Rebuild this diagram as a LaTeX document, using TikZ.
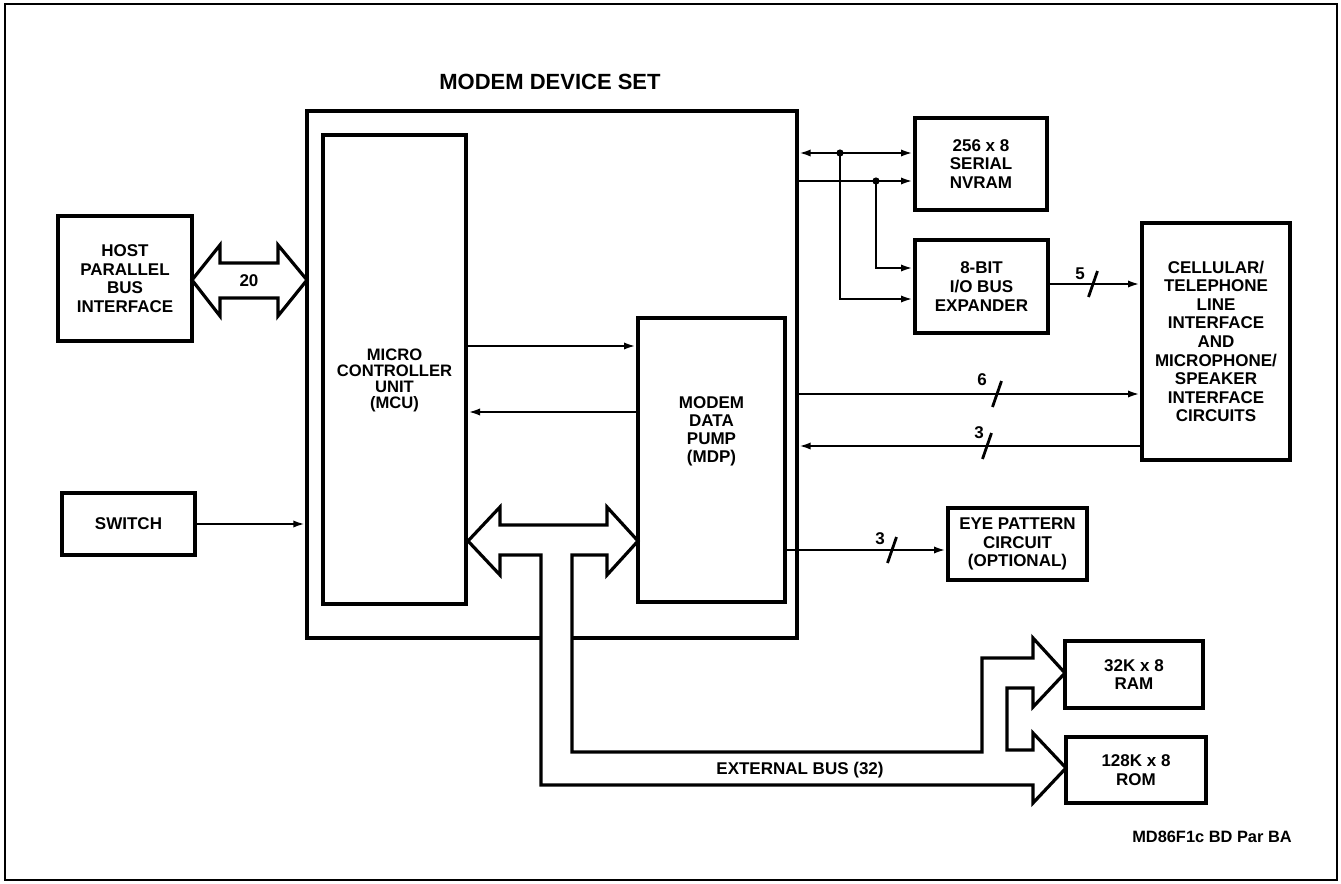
\documentclass[tikz,border=0pt]{standalone}
\usepackage{fontspec}
\setmainfont{Liberation Sans}
\usetikzlibrary{arrows.meta,calc}
\newcommand\lblfont{\fontsize{8.5}{9.3}\selectfont\bfseries}
\newcommand\tightfont{\fontsize{8.3}{8}\selectfont\bfseries}
\newcommand\ttlfont{\fontsize{11}{13}\selectfont\bfseries}
\begin{document}
\begin{tikzpicture}[x=0.5pt,y=-0.5pt,
  box/.style={draw,line width=2pt,inner sep=0pt,align=center,font=\lblfont},
  txt/.style={inner sep=0pt,align=center,font=\lblfont},
  conn/.style={line width=1.3pt},
  tip/.tip={Latex[length=6pt,width=3.6pt]},
  slashmark/.style={line width=1.4pt},
  bus/.style={draw,line width=1.6pt,line join=miter,fill=white},
]
\useasboundingbox (0,0) rectangle (1341,884);
\draw[line width=1.4pt] (5,4) rectangle (1337,880);

% row coordinates
\coordinate (r1) at (0,153);
\coordinate (r2) at (0,181);
\coordinate (r3) at (0,268);
\coordinate (r4) at (0,299);
\coordinate (r5) at (0,284);
\coordinate (r6) at (0,394);
\coordinate (r7) at (0,446);
\coordinate (r8) at (0,550);
\coordinate (ra) at (0,346);
\coordinate (rb) at (0,412);

% title
\node[font=\ttlfont,inner sep=0pt] (title) at (550,82) {MODEM DEVICE SET};

% main boxes
\node[box,line width=1.7pt,minimum width=245pt,minimum height=263.5pt] (modem) at (552,374.5) {};
\node[box,minimum width=71.5pt,minimum height=234.5pt] (mcu) at (394.5,369.5) {};
\node[txt,font=\tightfont] (mcutxt) at (394.5,380.5) {MICRO\\CONTROLLER\\UNIT\\(MCU)};
\node[box,minimum width=73.5pt,minimum height=142pt] (mdp) at (711.5,460) {};
\node[txt,font=\fontsize{8.5}{9}\selectfont\bfseries] (mdptxt) at (711.5,431.5) {MODEM\\DATA\\PUMP\\(MDP)};

\node[box,minimum width=67pt,minimum height=62.5pt] (host) at (125,278.5) {HOST\\PARALLEL\\BUS\\INTERFACE};
\node[box,minimum width=66.5pt,minimum height=31pt] (switch) at (128.5,524) {SWITCH};
\node[box,minimum width=66pt,minimum height=46pt] (nvram) at (981,164) {256 x 8\\SERIAL\\NVRAM};
\node[box,minimum width=66.5pt,minimum height=46.5pt] (ioexp) at (981.5,286.5) {8-BIT\\I/O BUS\\EXPANDER};
\node[box,minimum width=74pt,minimum height=118.5pt] (cell) at (1216,341.5) {CELLULAR/\\TELEPHONE\\LINE\\INTERFACE\\AND\\MICROPHONE/\\SPEAKER\\INTERFACE\\CIRCUITS};
\node[box,minimum width=69.5pt,minimum height=36pt] (eye) at (1017.5,544) {EYE PATTERN\\CIRCUIT\\(OPTIONAL)};
\node[box,minimum width=69pt,minimum height=33.5pt] (ram) at (1134,674.5) {32K x 8\\RAM};
\node[box,minimum width=70pt,minimum height=33pt] (rom) at (1136,770) {128K x 8\\ROM};

% host parallel bus (hollow double arrow)
\draw[bus] (192,280) -- (220,245) -- (220,263) -- (278,263) -- (278,245) -- (307,280)
  -- (278,316) -- (278,298) -- (220,298) -- (220,316) -- cycle;
\node[txt] (l20) at (249,281) {20};

% switch
\draw[conn,-tip] (switch.east) -- (switch.east -| modem.west);

% MCU <-> MDP
\draw[conn,-tip] (mcu.east |- ra) -- (mdp.west |- ra);
\draw[conn,-tip] (mdp.west |- rb) -- (mcu.east |- rb);

% NVRAM / IO expander
\coordinate (j1) at (840,153);
\coordinate (j2) at (876,181);
\draw[conn,tip-tip] (modem.east |- r1) -- (nvram.west |- r1);
\draw[conn,-tip] (modem.east |- r2) -- (nvram.west |- r2);
\draw[conn,-tip] (j1) |- (ioexp.west |- r4);
\draw[conn,-tip] (j2) |- (ioexp.west |- r3);
\fill (j1) circle[radius=1.8pt];
\fill (j2) circle[radius=1.8pt];

% IO expander -> cellular (5)
\draw[conn,-tip] (ioexp.east |- r5) -- (cell.west |- r5);
\draw[slashmark] (1093,284) ++(4.5,-13) -- ++(-9,26);
\node[txt] (l5) at (1080,274) {5};

% 6 and 3 lines
\draw[conn,-tip] (modem.east |- r6) -- (cell.west |- r6);
\draw[slashmark] (997,394) ++(4.5,-13) -- ++(-9,26);
\node[txt] (l6) at (982,380) {6};
\draw[conn,-tip] (cell.west |- r7) -- (modem.east |- r7);
\draw[slashmark] (987,446) ++(4.5,-13) -- ++(-9,26);
\node[txt] (l3a) at (979,433) {3};

% eye pattern
\draw[conn,-tip] (mdp.east |- r8) -- (eye.west |- r8);
\draw[slashmark] (892,550) ++(4.5,-13) -- ++(-9,26);
\node[txt] (l3b) at (880,539) {3};

% external bus
\draw[bus] (468,541) -- (500,507) -- (500,525) -- (607,525) -- (607,507) -- (638,541)
  -- (607,575) -- (607,555) -- (572,555) -- (572,752) -- (982,752) -- (982,658)
  -- (1033,658) -- (1033,638) -- (1065,673) -- (1033,707) -- (1033,688)
  -- (1007,688) -- (1007,750) -- (1033,750) -- (1033,733) -- (1066,768)
  -- (1033,803) -- (1033,785) -- (541,785) -- (541,555) -- (500,555) -- (500,575) -- cycle;
\node[txt] (extbus) at (800,770) {EXTERNAL BUS (32)};

% footer
\node[txt,font=\fontsize{8.2}{9}\selectfont\bfseries] (foot) at (1212,837) {MD86F1c BD Par BA};
\end{tikzpicture}
\end{document}
